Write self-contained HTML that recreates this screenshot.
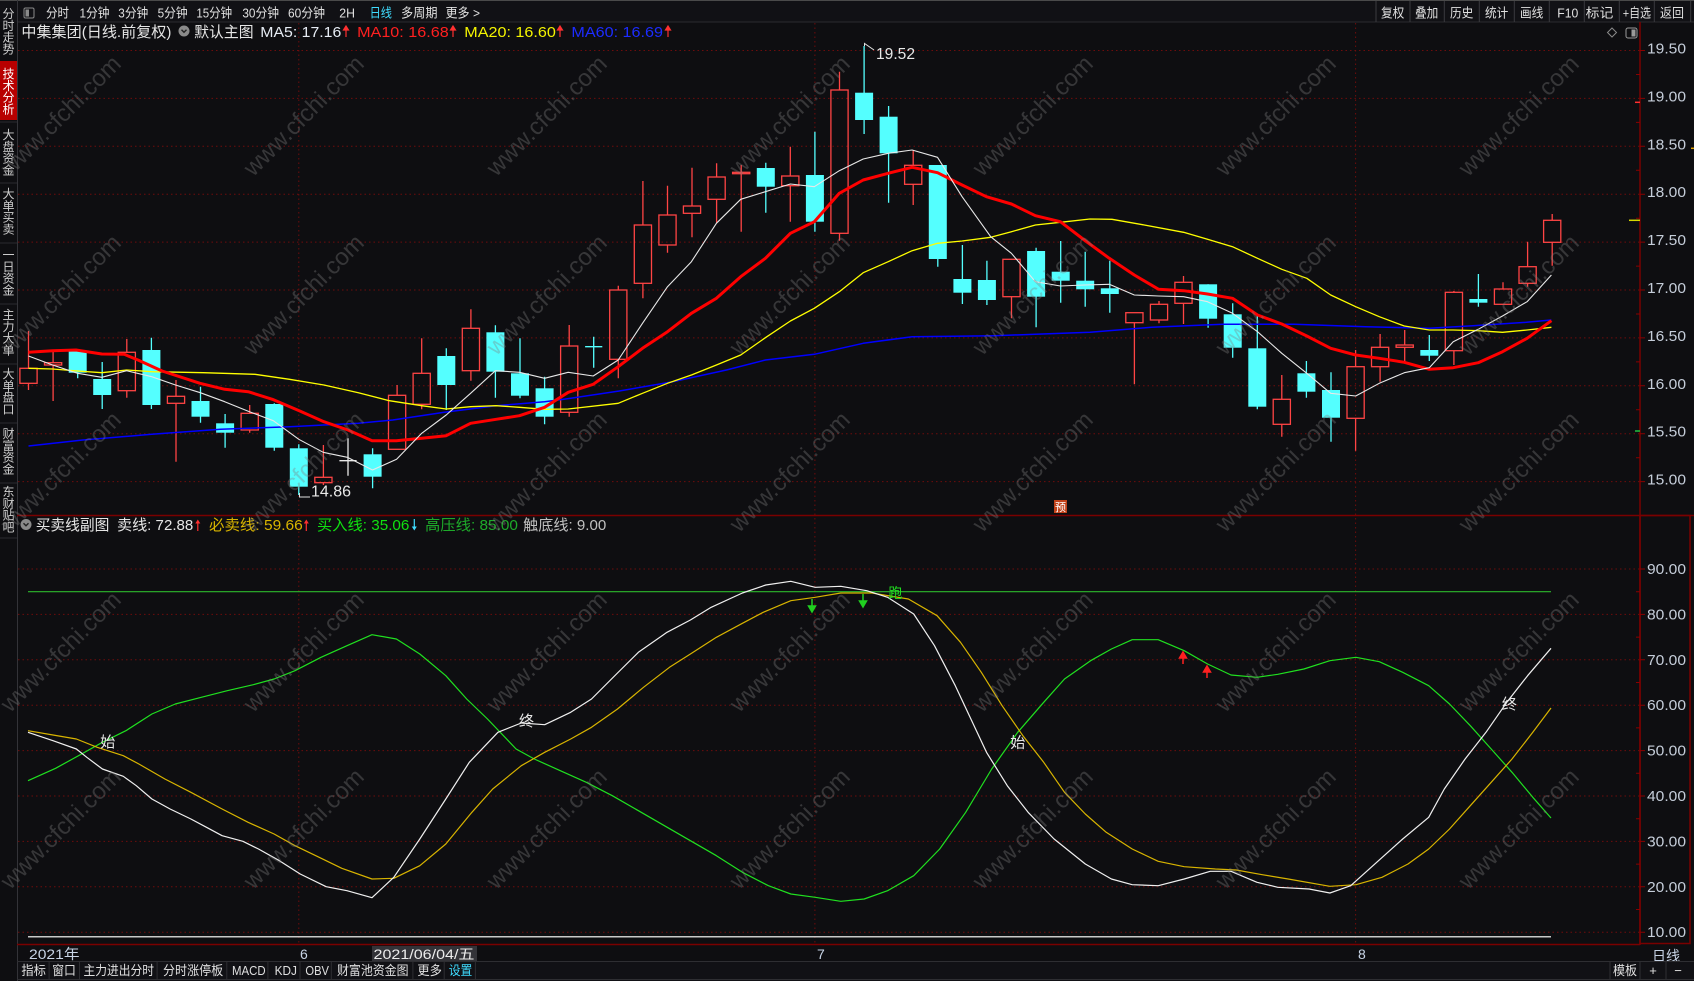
<!DOCTYPE html>
<html><head><meta charset="utf-8"><style>
html,body{margin:0;padding:0;background:#0e0e11;width:1694px;height:981px;overflow:hidden}
svg{display:block;font-family:"Liberation Sans","Noto Sans CJK SC",sans-serif}
</style></head><body>
<svg width="1694" height="981" viewBox="0 0 1694 981" xmlns="http://www.w3.org/2000/svg">
<rect width="1694" height="981" fill="#0e0e11"/>
<!-- top bar -->
<rect x="0" y="0" width="1694" height="22" fill="#111115"/>
<line x1="0" y1="0.5" x2="1694" y2="0.5" stroke="#4a4a4a"/>
<line x1="17" y1="22" x2="1694" y2="22" stroke="#2a2a2e"/>
<rect x="24" y="8" width="10" height="10" rx="1.5" fill="none" stroke="#8a8a8a"/>
<rect x="25.5" y="9.5" width="3.5" height="7" fill="#8a8a8a"/>
<g font-size="13" fill="#e0e0e0">
<text x="46" y="17.5" textLength="23" lengthAdjust="spacingAndGlyphs">分时</text>
<text x="79.5" y="17.5" textLength="30" lengthAdjust="spacingAndGlyphs">1分钟</text>
<text x="118.3" y="17.5" textLength="30" lengthAdjust="spacingAndGlyphs">3分钟</text>
<text x="157.6" y="17.5" textLength="30" lengthAdjust="spacingAndGlyphs">5分钟</text>
<text x="196.4" y="17.5" textLength="35.7" lengthAdjust="spacingAndGlyphs">15分钟</text>
<text x="242.4" y="17.5" textLength="36.6" lengthAdjust="spacingAndGlyphs">30分钟</text>
<text x="288" y="17.5" textLength="37" lengthAdjust="spacingAndGlyphs">60分钟</text>
<text x="339.3" y="17.5" textLength="15.7" lengthAdjust="spacingAndGlyphs">2H</text>
<text x="369.6" y="17.5" textLength="22.4" lengthAdjust="spacingAndGlyphs" fill="#3fdcff">日线</text>
<text x="401" y="17.5" textLength="36.5" lengthAdjust="spacingAndGlyphs">多周期</text>
<text x="445.5" y="17.5" textLength="34.5" lengthAdjust="spacingAndGlyphs">更多 &gt;</text>
<text x="1381" y="17.5" textLength="23.3" lengthAdjust="spacingAndGlyphs">复权</text>
<text x="1415" y="17.5" textLength="23.3" lengthAdjust="spacingAndGlyphs">叠加</text>
<text x="1450" y="17.5" textLength="23.3" lengthAdjust="spacingAndGlyphs">历史</text>
<text x="1485" y="17.5" textLength="23.3" lengthAdjust="spacingAndGlyphs">统计</text>
<text x="1520" y="17.5" textLength="23.3" lengthAdjust="spacingAndGlyphs">画线</text>
<text x="1557.3" y="17.5" textLength="21" lengthAdjust="spacingAndGlyphs">F10</text>
<text x="1585.7" y="17.5" textLength="27.6" lengthAdjust="spacingAndGlyphs">标记</text>
<text x="1622.7" y="17.5" textLength="28.3" lengthAdjust="spacingAndGlyphs">+自选</text>
<text x="1660" y="17.5" textLength="24" lengthAdjust="spacingAndGlyphs">返回</text>
</g>
<path d="M1376 1V22M1410 1V22M1444.3 1V22M1479.3 1V22M1514.3 1V22M1549.3 1V22M1584.3 1V22M1619.3 1V22M1654.3 1V22M1690.7 1V22" stroke="#3a3a3e"/>
<!-- sidebar -->
<line x1="17.5" y1="0" x2="17.5" y2="981" stroke="#333338"/>
<rect x="0" y="61" width="17" height="59" fill="#b80000"/>
<path d="M0 122H17M0 183H17M0 243H17M0 304H17M0 364H17M0 423H17M0 483H17M0 538H17" stroke="#2a2a2e"/>
<g font-size="12" fill="#cfcfcf" text-anchor="middle">
<text x="8.5" y="18"><tspan x="8.5">分</tspan><tspan x="8.5" dy="11.8">时</tspan><tspan x="8.5" dy="11.8">走</tspan><tspan x="8.5" dy="11.8">势</tspan></text>
<text x="8.5" y="78" fill="#ffffff"><tspan x="8.5">技</tspan><tspan x="8.5" dy="11.8">术</tspan><tspan x="8.5" dy="11.8">分</tspan><tspan x="8.5" dy="11.8">析</tspan></text>
<text x="8.5" y="139"><tspan x="8.5">大</tspan><tspan x="8.5" dy="11.8">盘</tspan><tspan x="8.5" dy="11.8">资</tspan><tspan x="8.5" dy="11.8">金</tspan></text>
<text x="8.5" y="198"><tspan x="8.5">大</tspan><tspan x="8.5" dy="11.8">单</tspan><tspan x="8.5" dy="11.8">买</tspan><tspan x="8.5" dy="11.8">卖</tspan></text>
<text x="8.5" y="259"><tspan x="8.5">一</tspan><tspan x="8.5" dy="11.8">日</tspan><tspan x="8.5" dy="11.8">资</tspan><tspan x="8.5" dy="11.8">金</tspan></text>
<text x="8.5" y="319"><tspan x="8.5">主</tspan><tspan x="8.5" dy="11.8">力</tspan><tspan x="8.5" dy="11.8">大</tspan><tspan x="8.5" dy="11.8">单</tspan></text>
<text x="8.5" y="378"><tspan x="8.5">大</tspan><tspan x="8.5" dy="11.8">单</tspan><tspan x="8.5" dy="11.8">盘</tspan><tspan x="8.5" dy="11.8">口</tspan></text>
<text x="8.5" y="438"><tspan x="8.5">财</tspan><tspan x="8.5" dy="11.8">富</tspan><tspan x="8.5" dy="11.8">资</tspan><tspan x="8.5" dy="11.8">金</tspan></text>
<text x="8.5" y="496"><tspan x="8.5">东</tspan><tspan x="8.5" dy="11.8">财</tspan><tspan x="8.5" dy="11.8">贴</tspan><tspan x="8.5" dy="11.8">吧</tspan></text>
</g>
<!-- grid -->
<g stroke="#6e0c0c" stroke-dasharray="1.5 3" stroke-width="1">
<path d="M18 50.5H1640M18 98.4H1640M18 146.3H1640M18 194.2H1640M18 242.1H1640M18 290H1640M18 337.9H1640M18 385.8H1640M18 433.7H1640M18 481.6H1640"/>
<path d="M18 569H1640M18 614.4H1640M18 659.8H1640M18 705.2H1640M18 750.6H1640M18 796H1640M18 841.4H1640M18 886.8H1640M18 932.2H1640"/>
<path d="M298.8 23V944M814.9 23V944M1355.6 23V944"/>
</g>
<!-- axes -->
<g stroke="#7a0000" stroke-width="1.5" fill="none">
<path d="M1640 22V945"/>
<path d="M17 515.5H1694"/>
<path d="M17 944.5H1640"/>
<rect x="1640" y="515.5" width="50" height="428"/>
</g>
<g stroke="#8a0000" stroke-width="1">
<path d="M1640 50.5h5M1640 98.4h5M1640 146.3h5M1640 194.2h5M1640 242.1h5M1640 290h5M1640 337.9h5M1640 385.8h5M1640 433.7h5M1640 481.6h5"/>
<path d="M1636 74.5h4M1636 122.4h4M1636 170.3h4M1636 218.2h4M1636 266.1h4M1636 314h4M1636 361.9h4M1636 409.8h4M1636 457.7h4"/>
<path d="M1640 569h5M1640 614.4h5M1640 659.8h5M1640 705.2h5M1640 750.6h5M1640 796h5M1640 841.4h5M1640 886.8h5M1640 932.2h5"/>
<path d="M1636 591.7h4M1636 637.1h4M1636 682.5h4M1636 727.9h4M1636 773.3h4M1636 818.7h4M1636 864.1h4M1636 909.5h4"/>
</g>
<path d="M1635 102.3h5" stroke="#ff3030" stroke-width="1.5"/>
<path d="M1629 220.3h11" stroke="#d8d800" stroke-width="1.5"/>
<path d="M1635 431h5" stroke="#20c040" stroke-width="1.5"/>
<path d="M1691 148.3h3" stroke="#e0a000" stroke-width="1.5"/>
<!-- axis labels -->
<g font-size="15" fill="#c5cdd9">
<text x="1647" y="53.5" textLength="39" lengthAdjust="spacingAndGlyphs">19.50</text>
<text x="1647" y="101.4" textLength="39" lengthAdjust="spacingAndGlyphs">19.00</text>
<text x="1647" y="149.3" textLength="39" lengthAdjust="spacingAndGlyphs">18.50</text>
<text x="1647" y="197.2" textLength="39" lengthAdjust="spacingAndGlyphs">18.00</text>
<text x="1647" y="245.1" textLength="39" lengthAdjust="spacingAndGlyphs">17.50</text>
<text x="1647" y="293" textLength="39" lengthAdjust="spacingAndGlyphs">17.00</text>
<text x="1647" y="340.9" textLength="39" lengthAdjust="spacingAndGlyphs">16.50</text>
<text x="1647" y="388.8" textLength="39" lengthAdjust="spacingAndGlyphs">16.00</text>
<text x="1647" y="436.7" textLength="39" lengthAdjust="spacingAndGlyphs">15.50</text>
<text x="1647" y="484.6" textLength="39" lengthAdjust="spacingAndGlyphs">15.00</text>
<text x="1647" y="574" textLength="39" lengthAdjust="spacingAndGlyphs">90.00</text>
<text x="1647" y="619.4" textLength="39" lengthAdjust="spacingAndGlyphs">80.00</text>
<text x="1647" y="664.8" textLength="39" lengthAdjust="spacingAndGlyphs">70.00</text>
<text x="1647" y="710.2" textLength="39" lengthAdjust="spacingAndGlyphs">60.00</text>
<text x="1647" y="755.6" textLength="39" lengthAdjust="spacingAndGlyphs">50.00</text>
<text x="1647" y="801" textLength="39" lengthAdjust="spacingAndGlyphs">40.00</text>
<text x="1647" y="846.4" textLength="39" lengthAdjust="spacingAndGlyphs">30.00</text>
<text x="1647" y="891.8" textLength="39" lengthAdjust="spacingAndGlyphs">20.00</text>
<text x="1647" y="937.2" textLength="39" lengthAdjust="spacingAndGlyphs">10.00</text>
</g>
<!-- candles -->
<path fill="none" stroke="#ff4444" stroke-width="1.3" d="M28.5 331V368.3M28.5 383.3V390M53.1 350V362.7M53.1 365V401M126.8 339V352.3M126.8 390.7V397.7M176 380V396.3M176 403.3V461.7M249.7 405V413.3M249.7 430V432.7M323.4 445V477.3M323.4 482.7V485M397.1 385V395.3M421.7 338.3V373.3M421.7 404.3V409.3M470.9 309.3V328.3M470.9 370.7V380.7M569.2 325V346M569.2 412.3V416.7M618.3 285.7V290M618.3 359.3V378.3M642.9 181V225M642.9 283.3V298.3M667.5 185.7V215M667.5 245V252.7M692 167.7V206M692 213.3V237.3M716.6 163.3V177M716.6 199.3V222.7M741.2 165V172.3M741.2 173.7V231.7M790.3 146.7V176M790.3 185.7V221.7M839.5 71.7V90M839.5 233.3V240.7M913.2 150V165.3M913.2 184.3V205M1011.5 296.7V318.3M1134.4 322.7V384.3M1159 301V304.3M1159 320V323.3M1183.5 276V282.3M1183.5 303.3V324M1281.8 375V399.3M1281.8 424.3V436.7M1355.6 350V366.7M1355.6 418.3V450.7M1380.1 334V347.3M1380.1 366.7V381.7M1404.7 330V345M1404.7 347.3V361.7M1453.9 291V292.3M1453.9 350.7V365M1503 282.3V289M1527.6 241.7V266.7M1527.6 283.3V286.7M1552.2 214V220.3M1552.2 242.3V265.7"/>
<g fill="none" stroke="#ff4444" stroke-width="1.3">
<rect x="19.9" y="368.3" width="17.2" height="15"/>
<rect x="44.5" y="362.7" width="17.2" height="2.3"/>
<rect x="118.2" y="352.3" width="17.2" height="38.4"/>
<rect x="167.4" y="396.3" width="17.2" height="7"/>
<rect x="241.1" y="413.3" width="17.2" height="16.7"/>
<rect x="314.8" y="477.3" width="17.2" height="5.4"/>
<rect x="388.5" y="395.3" width="17.2" height="54"/>
<rect x="413.1" y="373.3" width="17.2" height="31"/>
<rect x="462.3" y="328.3" width="17.2" height="42.4"/>
<rect x="560.6" y="346" width="17.2" height="66.3"/>
<rect x="609.7" y="290" width="17.2" height="69.3"/>
<rect x="634.3" y="225" width="17.2" height="58.3"/>
<rect x="658.9" y="215" width="17.2" height="30"/>
<rect x="683.4" y="206" width="17.2" height="7.3"/>
<rect x="708" y="177" width="17.2" height="22.3"/>
<rect x="732.6" y="172.3" width="17.2" height="1.4"/>
<rect x="781.7" y="176" width="17.2" height="9.7"/>
<rect x="830.9" y="90" width="17.2" height="143.3"/>
<rect x="904.6" y="165.3" width="17.2" height="19"/>
<rect x="1002.9" y="259.3" width="17.2" height="37.4"/>
<rect x="1125.8" y="312.7" width="17.2" height="10"/>
<rect x="1150.4" y="304.3" width="17.2" height="15.7"/>
<rect x="1174.9" y="282.3" width="17.2" height="21"/>
<rect x="1273.2" y="399.3" width="17.2" height="25"/>
<rect x="1347" y="366.7" width="17.2" height="51.6"/>
<rect x="1371.5" y="347.3" width="17.2" height="19.4"/>
<rect x="1396.1" y="345" width="17.2" height="2.3"/>
<rect x="1445.3" y="292.3" width="17.2" height="58.4"/>
<rect x="1494.4" y="289" width="17.2" height="15.3"/>
<rect x="1519" y="266.7" width="17.2" height="16.6"/>
<rect x="1543.6" y="220.3" width="17.2" height="22"/>
</g>
<path fill="none" stroke="#54ffff" stroke-width="1.3" d="M77.7 351V378.3M102.2 362V409M151.4 337.7V409M200.5 386.7V422.7M225.1 414V447.7M274.3 403.3V450.7M298.8 444.3V495M372.6 448.3V488.3M446.3 348.3V410M495.4 325.3V397.7M520 338.3V398.3M544.6 376.7V424.3M593.7 336.7V367.7M585.1 346.7H602.3M765.8 162.7V212.7M814.9 131.7V231.7M864.1 46V134M888.6 106V202.7M937.8 165V266.7M962.4 245V304M986.9 260.7V305M1036.1 247.7V327.3M1060.7 241V302.7M1085.2 251.7V306.7M1109.8 260.7V312.7M1208.1 284.3V327.7M1232.7 303.3V357.7M1257.3 314.3V409.3M1306.4 361V397.7M1331 372.3V441.7M1429.3 335V361M1478.4 274V306.7"/>
<g fill="#54ffff">
<rect x="68.7" y="351" width="18" height="21.7"/>
<rect x="93.2" y="379" width="18" height="16"/>
<rect x="142.4" y="350" width="18" height="55"/>
<rect x="191.5" y="401" width="18" height="15.7"/>
<rect x="216.1" y="423.3" width="18" height="9.4"/>
<rect x="265.3" y="404" width="18" height="43.7"/>
<rect x="289.8" y="448.3" width="18" height="38.4"/>
<rect x="363.6" y="454.3" width="18" height="22.4"/>
<rect x="437.3" y="356" width="18" height="29"/>
<rect x="486.4" y="332.3" width="18" height="39.4"/>
<rect x="511" y="373.3" width="18" height="22.4"/>
<rect x="535.6" y="388.3" width="18" height="28.4"/>
<rect x="756.8" y="168" width="18" height="18.7"/>
<rect x="805.9" y="175" width="18" height="46.7"/>
<rect x="855.1" y="92.7" width="18" height="27.3"/>
<rect x="879.6" y="116.7" width="18" height="36.6"/>
<rect x="928.8" y="165" width="18" height="94"/>
<rect x="953.4" y="279" width="18" height="13.7"/>
<rect x="977.9" y="280" width="18" height="20"/>
<rect x="1027.1" y="251" width="18" height="45.7"/>
<rect x="1051.7" y="271.7" width="18" height="9"/>
<rect x="1076.2" y="280.7" width="18" height="8.6"/>
<rect x="1100.8" y="288.3" width="18" height="5.7"/>
<rect x="1199.1" y="284.3" width="18" height="34.4"/>
<rect x="1223.7" y="314.3" width="18" height="33.4"/>
<rect x="1248.3" y="348.3" width="18" height="58.4"/>
<rect x="1297.4" y="373.3" width="18" height="18.4"/>
<rect x="1322" y="390" width="18" height="27.7"/>
<rect x="1420.3" y="350" width="18" height="5.7"/>
<rect x="1469.4" y="299" width="18" height="3.7"/>
</g>
<path d="M348 438.3V475.7M339.4 460.7H356.6" stroke="#e8e8e8" stroke-width="1.3" fill="none"/>
<!-- MA lines -->
<g fill="none" stroke-linejoin="round">
<polyline stroke="#0000ff" stroke-width="1.5" points="28.5,446 82.9,440 151.7,434.3 220.6,429.3 289.5,426.7 358.4,423.3 392.8,420 444.4,412.3 496.1,405.7 544.6,401.7 565.7,399 619.3,391 672.9,381.7 726.4,370 765.4,360 814.3,354.3 863.2,343.3 912.1,336.7 994.3,335.7 1035.4,334.3 1090,332.3 1151.4,327.3 1222.9,324.3 1294.3,324.3 1365.7,326.7 1429.3,328.3 1472.9,325.7 1526.4,322.3 1551.4,320"/>
<polyline stroke="#ffff00" stroke-width="1.3" points="28.5,368.3 52.6,369 77.7,371 101.8,372.7 126.6,370 151.7,371.7 203.4,372.7 255,374.3 289.5,379.3 323.9,385 358.4,392.7 389.3,400.7 421.7,405.7 446.2,409 470.6,406.7 496.1,405.7 519.5,407.3 544.6,409.3 568.2,409 618.2,403.3 642.5,393.3 667.5,383.3 691.4,375 716.4,365 740.7,355 765.4,337.7 790.4,321 814.3,308.3 839.3,291.7 863.2,272.7 888.2,261.7 912.1,250.7 937.5,243.3 962.1,241 990.7,237.3 1011.4,231.7 1035.4,225 1060.4,222.3 1090,219 1112,219.3 1144.3,225 1183.6,232.3 1207.5,239.3 1232.5,246.7 1257.5,258.3 1281.8,269.3 1306.8,278.3 1330.7,295 1355.7,306.7 1379.3,316.7 1404.3,326 1429.3,330 1453.2,330 1478.2,330.7 1502.5,332.3 1527.1,330 1551.4,327.3"/>
<polyline stroke="#ff0000" stroke-width="3" points="28.5,352.3 52.6,350.7 76,350 101.8,354 124.2,354.3 138,360 162.1,371 200,383.3 224.7,389.3 248.2,391.7 272.3,399.3 299.8,411 323.9,421.7 348,430 372.1,440.7 396.2,440.7 421.7,438.3 446.2,435.7 470.6,423.3 496.1,419.3 519.5,415.7 544.6,407.3 568.2,392.3 593.2,384.3 618.2,366.7 642.5,348.3 667.5,331.7 691.4,313.3 716.4,298.3 740.7,276.7 765.4,258.3 790.4,233.3 814.3,221.7 839.3,193.3 863.2,180 888.2,173.3 912.1,167.3 937.5,172.7 962.1,185 986.4,196.7 1011.4,204 1035.4,215.7 1060.4,221.7 1084.3,240 1109.3,258.3 1134.3,275 1158.6,289.3 1183.6,290.7 1207.5,294 1232.5,298.3 1257.5,315 1281.8,324 1306.8,336 1330.7,348.3 1355.7,355 1379.3,358.3 1404.3,362.3 1429.3,369.3 1453.2,367.7 1478.2,362.7 1502.5,351.7 1527.1,338.3 1551.4,320.7"/>
<polyline stroke="#e8e8e8" stroke-width="1.1" points="28.5,356 52.6,365 77.7,373.3 101.8,377.3 126.6,370.7 151.7,376.7 175.5,385 200.3,392.7 224.7,401.7 249.5,411.7 273.3,420.7 298.8,439.3 323.2,452.3 347.3,457.3 372.5,470 396.6,459.3 421.7,433.3 446.2,415 470.6,393.3 495.4,370.7 519.5,372.3 544.6,378.3 568.2,372.3 593.2,376 618.2,360 642.5,323.3 667.5,286.7 691.4,261.7 716.4,223.3 740.7,199.3 765.4,191.7 790.4,184 814.3,186.7 839.3,170.7 863.2,159 888.2,153.3 912.1,150 937.5,157.3 962.1,196.7 990.7,236.7 1011.4,253.3 1035.4,281.7 1060.4,286 1084.3,285 1109.3,284.3 1134.3,295 1158.6,296 1183.6,296.7 1207.5,301.7 1232.5,313.3 1257.5,331.7 1281.8,353.3 1306.8,373.3 1330.7,393.3 1355.7,396 1379.3,383.3 1404.3,372.7 1429.3,367.7 1453.2,341.7 1478.2,329.3 1502.5,316 1527.1,301.7 1551.4,275"/>
</g>
<!-- high/low marks -->
<path d="M864.5 46V43.5L874 50" stroke="#e0e0e0" stroke-width="1" fill="none"/>
<text x="876" y="59" font-size="16" fill="#e8e8e8" textLength="39" lengthAdjust="spacingAndGlyphs">19.52</text>
<path d="M299.5 493V497H310" stroke="#e0e0e0" stroke-width="1" fill="none"/>
<text x="311" y="496.5" font-size="16" fill="#e8e8e8" textLength="40" lengthAdjust="spacingAndGlyphs">14.86</text>
<rect x="1054" y="500" width="13" height="13" fill="#c2421a"/>
<text x="1060.5" y="511" font-size="11" fill="#ffffff" text-anchor="middle">预</text>
<!-- main header -->
<g font-size="15">
<text x="21.4" y="37" fill="#e6e6e6" textLength="150" lengthAdjust="spacingAndGlyphs">中集集团(日线.前复权)</text>
<text x="194.2" y="37" fill="#e6e6e6" textLength="59.4" lengthAdjust="spacingAndGlyphs">默认主图</text>
<text x="260.3" y="37" fill="#e6ecf4" textLength="81" lengthAdjust="spacingAndGlyphs">MA5: 17.16</text>
<text x="357.1" y="37" fill="#ff2020" textLength="91.6" lengthAdjust="spacingAndGlyphs">MA10: 16.68</text>
<text x="464.3" y="37" fill="#f4f400" textLength="91.5" lengthAdjust="spacingAndGlyphs">MA20: 16.60</text>
<text x="571.4" y="37" fill="#1c2cff" textLength="91.6" lengthAdjust="spacingAndGlyphs">MA60: 16.69</text>
</g>
<circle cx="184" cy="31" r="5.5" fill="#8a8a8a"/>
<path d="M181.5 29.8L184 32.3L186.5 29.8" stroke="#222" stroke-width="1.4" fill="none"/>
<g stroke="#ff3030" stroke-width="1.2" fill="#ff3030">
<path d="M346 37V27.5"/><path d="M343.5 30L346 26L348.5 30Z"/>
<path d="M453 37V27.5"/><path d="M450.5 30L453 26L455.5 30Z"/>
<path d="M560 37V27.5"/><path d="M557.5 30L560 26L562.5 30Z"/>
<path d="M668 37V27.5"/><path d="M665.5 30L668 26L670.5 30Z"/>
</g>
<path d="M1612 28L1616.5 32.5L1612 37L1607.5 32.5Z" stroke="#8a8a8a" fill="none"/>
<rect x="1626" y="28" width="11" height="10" rx="2" stroke="#9a9a9a" fill="none"/>
<rect x="1631.5" y="29.5" width="4" height="7" fill="#9a9a9a"/>
<!-- sub panel -->
<path d="M28 591.7H1551" stroke="#2cb82c" stroke-width="1.2"/>
<path d="M28 936.7H1551" stroke="#c8c8c8" stroke-width="1.5"/>
<g fill="none" stroke-linejoin="round">
<polyline stroke="#20e020" stroke-width="1.2" points="28,780.7 55.6,768.3 81.6,754 102.4,742.3 125.9,730.7 151.9,714 175.3,704 201.3,697.3 227.3,690.7 253.3,684.7 274.1,679 295,670.7 321,657.3 347,645.7 372,634.7 396.4,639 419.8,654 445.8,675.7 466.7,699 487.5,719 516.1,749 534.3,759 560.3,770.7 586.3,782.3 612.3,795.7 638.4,810.7 664.4,825.7 690.4,840.7 716.4,855.7 742.4,872.3 768.4,885.7 790.8,894 815.2,897.3 840.8,901.3 864.2,899 887.6,890.7 913.7,875.7 939.7,849 965.7,812.3 991.7,769 1017.7,732.3 1043.7,702.3 1064.5,679 1090.6,660.7 1111.4,649 1132.2,639.7 1158.2,639.7 1184.2,650.7 1207.6,664 1231,675 1257,677.3 1277.8,674.3 1303.9,669 1329.9,660.7 1355.9,657.3 1379.3,661.7 1402.7,672.3 1428.7,685.7 1449.5,704 1470.3,725.7 1491.2,749 1512,772.3 1532.8,797.3 1551,818"/>
<polyline stroke="#d8b400" stroke-width="1.2" points="28,730.7 53,735 76.4,739 97.2,747.3 123.3,755.7 138.9,764 164.9,779 190.9,792.3 222.1,809 248.1,822.3 274.1,834 295,845.7 315.8,855.7 341.8,868.3 372,879 393.8,878.3 419.8,865.7 445.8,844 471.9,812.3 492.7,789 521.3,765.7 544.7,752.3 570.7,739 591.5,727.3 617.5,709 643.5,687.3 669.5,667.3 690.4,654 716.4,637.3 742.4,623.3 763.2,612.3 790.8,600.7 815.2,597.3 840.8,593 872,593 908.4,599 937.1,615.7 960.5,642.3 981.3,672.3 1002.1,705.7 1022.9,735.7 1043.7,762.3 1064.5,792.3 1085.3,814 1106.2,832.3 1132.2,849 1158.2,861.3 1184.2,866.7 1215.4,869 1236.2,870 1262.2,874.7 1288.2,879 1329.9,886.3 1356,884.7 1382,877.3 1408,864 1428.7,849 1449.5,829 1470.3,805.7 1491.2,782.3 1512,759 1532.8,732.3 1551,708"/>
<polyline stroke="#f0f0f0" stroke-width="1.2" points="28,732.3 53,740.7 76.4,749 86.8,757.3 102.4,769 123.3,776.3 136.3,785.7 151.9,799 170.1,809 190.9,819 206.5,827.3 222.1,835.7 242.9,841.3 258.5,849 279.4,860.7 300.2,874 326.2,886.7 347,890.7 372,897.7 393.8,877.3 419.8,839 445.8,799 469.3,762.3 497.9,732.3 521.3,723 544.7,724.7 570.7,712.3 591.5,699 617.5,673 638.4,652.3 667,632.3 690.4,620 711.2,607.3 742.4,593 765.8,585 790.8,581.3 815.2,587.3 840.8,586.3 866.8,590.7 887.6,597.3 913.7,614 934.5,645.7 955.3,685.7 970.9,719 986.5,752.3 1007.3,785.7 1028.1,812.3 1054.1,839 1085.3,864 1111.4,879 1132.2,884.7 1158.2,885.7 1184.2,879 1210.2,871.3 1231,871.3 1257,882.3 1277.8,887.3 1309.1,889 1329.9,893 1350.7,885.7 1376.7,862.3 1402.7,839 1428.7,817.3 1444.3,789 1465.1,759 1486,732.3 1506.8,702.3 1527.6,675.7 1551,648.3"/>
</g>
<g font-size="15" fill="#e8e8e8" text-anchor="middle">
<text x="107.7" y="747">始</text>
<text x="526.5" y="726">终</text>
<text x="1017.7" y="747.5">始</text>
<text x="1509.4" y="709">终</text>
</g>
<text x="895.4" y="598" font-size="14" fill="#20e020" text-anchor="middle">跑</text>
<g stroke="#20d020" stroke-width="1.5" fill="#20d020">
<path d="M812 599V608"/><path d="M808.5 606L812 612L815.5 606Z"/>
<path d="M863 594V603"/><path d="M859.5 601L863 607L866.5 601Z"/>
</g>
<g stroke="#ff2020" stroke-width="1.5" fill="#ff2020">
<path d="M1183 664V656"/><path d="M1179.5 658L1183 652L1186.5 658Z"/>
<path d="M1207 678V670"/><path d="M1203.5 672L1207 666L1210.5 672Z"/>
</g>
<!-- sub header -->
<circle cx="26" cy="524.5" r="5.5" fill="#8a8a8a"/>
<path d="M23.5 523.3L26 525.8L28.5 523.3" stroke="#222" stroke-width="1.4" fill="none"/>
<g font-size="15">
<text x="35.7" y="530" fill="#e6e6e6" textLength="73.7" lengthAdjust="spacingAndGlyphs">买卖线副图</text>
<text x="117" y="530" fill="#e6e6e6" textLength="76.3" lengthAdjust="spacingAndGlyphs">卖线: 72.88</text>
<text x="209" y="530" fill="#d8b400" textLength="93.7" lengthAdjust="spacingAndGlyphs">必卖线: 59.66</text>
<text x="317" y="530" fill="#10e010" textLength="92.4" lengthAdjust="spacingAndGlyphs">买入线: 35.06</text>
<text x="425" y="530" fill="#1eaa2a" textLength="92.9" lengthAdjust="spacingAndGlyphs">高压线: 85.00</text>
<text x="523.2" y="530" fill="#c0c0c0" textLength="83.1" lengthAdjust="spacingAndGlyphs">触底线: 9.00</text>
</g>
<g stroke-width="1.2">
<path d="M197.8 531V521" stroke="#ff3030"/><path d="M195.3 523.5L197.8 519.5L200.3 523.5Z" fill="#ff3030"/>
<path d="M306.3 531V521" stroke="#ff3030"/><path d="M303.8 523.5L306.3 519.5L308.8 523.5Z" fill="#ff3030"/>
<path d="M414.3 519V529" stroke="#40dcff"/><path d="M411.8 526.5L414.3 530.5L416.8 526.5Z" fill="#40dcff"/>
</g>
<!-- watermarks -->
<g font-size="24" fill="rgba(128,128,128,0.36)" text-anchor="middle" dominant-baseline="central">
<text transform="translate(61,116) rotate(-45)">www.cfchi.com</text>
<text transform="translate(304,116) rotate(-45)">www.cfchi.com</text>
<text transform="translate(547,116) rotate(-45)">www.cfchi.com</text>
<text transform="translate(790,116) rotate(-45)">www.cfchi.com</text>
<text transform="translate(1033,116) rotate(-45)">www.cfchi.com</text>
<text transform="translate(1276,116) rotate(-45)">www.cfchi.com</text>
<text transform="translate(1519,116) rotate(-45)">www.cfchi.com</text>
<text transform="translate(61,295) rotate(-45)">www.cfchi.com</text>
<text transform="translate(304,295) rotate(-45)">www.cfchi.com</text>
<text transform="translate(547,295) rotate(-45)">www.cfchi.com</text>
<text transform="translate(790,295) rotate(-45)">www.cfchi.com</text>
<text transform="translate(1033,295) rotate(-45)">www.cfchi.com</text>
<text transform="translate(1276,295) rotate(-45)">www.cfchi.com</text>
<text transform="translate(1519,295) rotate(-45)">www.cfchi.com</text>
<text transform="translate(61,472) rotate(-45)">www.cfchi.com</text>
<text transform="translate(304,472) rotate(-45)">www.cfchi.com</text>
<text transform="translate(547,472) rotate(-45)">www.cfchi.com</text>
<text transform="translate(790,472) rotate(-45)">www.cfchi.com</text>
<text transform="translate(1033,472) rotate(-45)">www.cfchi.com</text>
<text transform="translate(1276,472) rotate(-45)">www.cfchi.com</text>
<text transform="translate(1519,472) rotate(-45)">www.cfchi.com</text>
<text transform="translate(61,652) rotate(-45)">www.cfchi.com</text>
<text transform="translate(304,652) rotate(-45)">www.cfchi.com</text>
<text transform="translate(547,652) rotate(-45)">www.cfchi.com</text>
<text transform="translate(790,652) rotate(-45)">www.cfchi.com</text>
<text transform="translate(1033,652) rotate(-45)">www.cfchi.com</text>
<text transform="translate(1276,652) rotate(-45)">www.cfchi.com</text>
<text transform="translate(1519,652) rotate(-45)">www.cfchi.com</text>
<text transform="translate(61,829) rotate(-45)">www.cfchi.com</text>
<text transform="translate(304,829) rotate(-45)">www.cfchi.com</text>
<text transform="translate(547,829) rotate(-45)">www.cfchi.com</text>
<text transform="translate(790,829) rotate(-45)">www.cfchi.com</text>
<text transform="translate(1033,829) rotate(-45)">www.cfchi.com</text>
<text transform="translate(1276,829) rotate(-45)">www.cfchi.com</text>
<text transform="translate(1519,829) rotate(-45)">www.cfchi.com</text>
</g>
<!-- date axis -->
<g font-size="14" fill="#c8d4e6">
<text x="29" y="959" textLength="50.5" lengthAdjust="spacingAndGlyphs">2021年</text>
<text x="300" y="959">6</text>
<text x="817" y="959">7</text>
<text x="1358" y="959">8</text>
<text x="1652" y="961" textLength="28" lengthAdjust="spacingAndGlyphs">日线</text>
</g>
<rect x="372" y="946" width="105" height="15" fill="#333338"/>
<text x="373.5" y="959" font-size="14" fill="#ececec" textLength="101" lengthAdjust="spacingAndGlyphs">2021/06/04/五</text>
<!-- bottom toolbar -->
<rect x="18" y="962" width="1676" height="19" fill="#111115"/>
<path d="M17 961.5H1694M17 979.5H1694" stroke="#2e2e32"/>
<path d="M49.1 962V980M79.5 962V980M157.1 962V980M226.8 962V980M267.9 962V980M300 962V980M331.3 962V980M412.9 962V980M444.2 962V980M475.4 962V980M1610 962V980M1640 962V980M1666 962V980" stroke="#2e2e32"/>
<g font-size="13" fill="#e0e0e0">
<text x="21.4" y="975" textLength="24.6" lengthAdjust="spacingAndGlyphs">指标</text>
<text x="52.2" y="975" textLength="23.7" lengthAdjust="spacingAndGlyphs">窗口</text>
<text x="83.5" y="975" textLength="70.5" lengthAdjust="spacingAndGlyphs">主力进出分时</text>
<text x="163" y="975" textLength="60.2" lengthAdjust="spacingAndGlyphs">分时涨停板</text>
<text x="232" y="975" textLength="33.6" lengthAdjust="spacingAndGlyphs">MACD</text>
<text x="274.6" y="975" textLength="22.3" lengthAdjust="spacingAndGlyphs">KDJ</text>
<text x="305.4" y="975" textLength="23.6" lengthAdjust="spacingAndGlyphs">OBV</text>
<text x="337" y="975" textLength="71.5" lengthAdjust="spacingAndGlyphs">财富池资金图</text>
<text x="417.4" y="975" textLength="24.6" lengthAdjust="spacingAndGlyphs">更多</text>
<text x="448.7" y="975" textLength="23.6" lengthAdjust="spacingAndGlyphs" fill="#3fdcff">设置</text>
<text x="1613" y="975" textLength="24" lengthAdjust="spacingAndGlyphs">模板</text>
<text x="1653" y="975" text-anchor="middle">+</text>
<text x="1678" y="975" text-anchor="middle">−</text>
</g>
</svg>
</body></html>
